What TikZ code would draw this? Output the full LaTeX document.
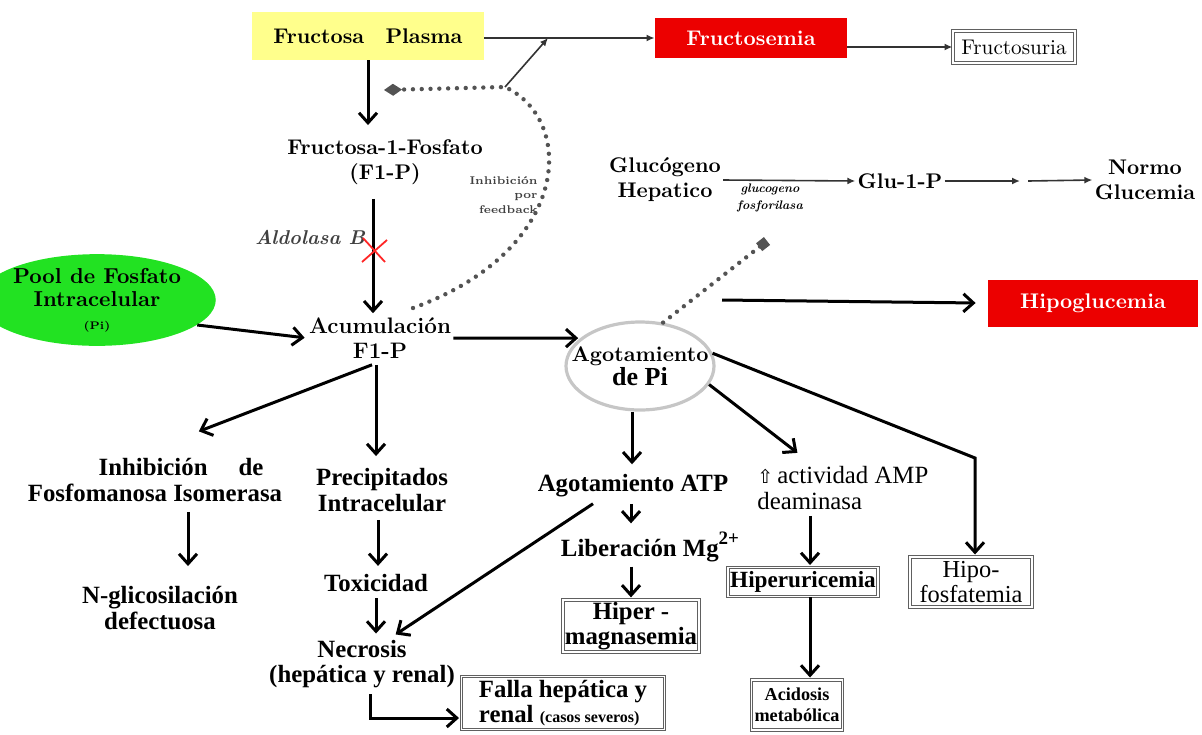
\documentclass[tikz,border=0pt]{standalone}
\usepackage{fontspec}
\newfontfamily\tnr{Liberation Serif}
\newfontfamily\symfont{DejaVu Sans}
\usetikzlibrary{arrows.meta,shapes.geometric,calc}

\definecolor{plasmayel}{RGB}{255,255,140}
\definecolor{alarmred}{RGB}{236,0,0}
\definecolor{poolgreen}{RGB}{34,226,34}

\tikzset{
  up/.style={font=\bfseries\fontsize{10.6}{12.5}\selectfont, align=center, inner sep=1pt},
  low/.style={font=\tnr\bfseries\fontsize{12.4}{12.8}\selectfont, align=center, inner sep=1pt},
  lowreg/.style={font=\tnr\fontsize{12.4}{12.8}\selectfont, align=center, inner sep=1pt},
  ybox/.style={up, fill=plasmayel, minimum width=116pt, minimum height=24pt},
  rbox/.style={up, fill=alarmred, text=white, minimum width=96pt, minimum height=20pt},
  gbox/.style={draw=gray!75!black, double=white, double distance=0.7pt, line width=0.5pt, inner sep=1.5pt},
  arr/.style={-{Straight Barb[length=5pt,width=9pt]}, line width=1.5pt, shorten >=1pt},
  thinarr/.style={-{Latex[length=4pt,width=3.5pt]}, line width=0.8pt, draw=black!80},
  dots/.style={draw=gray!65!black, line width=2.2pt, dash pattern=on 0pt off 4.4pt, line cap=round},
  xcross/.style={draw=red!85, line width=0.9pt},
}

\begin{document}
\begin{tikzpicture}[x=0.5pt, y=-0.5pt]
  \useasboundingbox (0,0) rectangle (1202,734);

  % top row
  \node[ybox] (fp) at (368,36) {Fructosa\quad Plasma};
  \node[rbox] (fsem) at (751,38) {Fructosemia};
  \node[gbox, font=\fontsize{10.6}{12}\selectfont, minimum width=61pt, minimum height=16pt] (fsur) at (1014,47) {Fructosuria};
  \node[up] (f1p) at (385,162) {Fructosa-1-Fosfato\\(F1-P)};
  \node[up, font=\bfseries\itshape\fontsize{10}{12}\selectfont, text=black!75] (aldo) at (310,237) {Aldolasa B};
  \node[up, font=\bfseries\fontsize{11.2}{12.5}\selectfont] (acum) at (380,338) {Acumulación\\F1-P};
  \node[ellipse, fill=poolgreen, minimum width=90pt, minimum height=45pt, inner sep=0pt, align=center,
        font=\bfseries\fontsize{10.8}{11.5}\selectfont] (pool) at (97,300)
        {\strut Pool de Fosfato\\Intracelular\\{\fontsize{5.5}{6}\selectfont (Pi)}};
  \node[ellipse, draw=gray!45, line width=1.6pt, minimum width=74pt, minimum height=44pt, inner xsep=-10pt, inner ysep=-2pt, align=center] (agpi) at (640,366)
        {{\bfseries\fontsize{10.6}{12}\selectfont Agotamiento}\\{\tnr\bfseries\fontsize{13}{12}\selectfont de Pi}};

  % glycogen row
  \node[up] (gluc) at (665,180) {Glucógeno\\Hepatico};
  \node[up] (g1p) at (900,181) {Glu-1-P};
  \node[up] (normo) at (1145,180) {Normo\\Glucemia};
  \node[up, font=\bfseries\itshape\fontsize{6.2}{8.5}\selectfont] (gfos) at (770,198) {glucogeno\\fosforilasa};
  \node[rbox, minimum width=105pt, minimum height=23.5pt] (hipog) at (1093,303) {Hipoglucemia};
  \node[up, font=\bfseries\fontsize{5.6}{7.2}\selectfont, text=black!75, align=right, anchor=east] (fblab) at (540,195) {Inhibición\\por\\feedback};

  % lower left
  \node[low] (inh) at (155,480) {\hspace*{26pt}Inhibición\quad\ de\\Fosfomanosa Isomerasa};
  \node[low] (nglic) at (160,608) {N-glicosilación\\defectuosa};
  \node[low] (prec) at (382,490) {Precipitados\\Intracelular};
  \node[low] (toxi) at (376,583) {Toxicidad};
  \node[low] (necro) at (362,664) {Necrosis\\(hepática y renal)};
  \node[gbox, low, align=left, minimum width=101.5pt, minimum height=26.5pt] (falla) at (563,703)
        {Falla hepática y\\renal {\fontsize{8}{9}\selectfont (casos severos)}};

  % lower right
  \node[low] (atp) at (633,486) {Agotamiento ATP};
  \node[low] (mg) at (650,547) {Liberación Mg\raisebox{1.1ex}{\fontsize{9.5}{9}\selectfont 2+}};
  \node[gbox, low, minimum width=65.5pt, minimum height=24pt] (hmag) at (631,626) {Hiper -\\magnasemia};
  \node[lowreg, align=left, anchor=west] (amp) at (755,488) {{\symfont\fontsize{9.5}{9}\selectfont ⇧}\,actividad AMP\\deaminasa};
  \node[gbox, low, font=\tnr\bfseries\fontsize{11.6}{12}\selectfont, minimum width=75pt, minimum height=14.5pt] (hur) at (803,582) {Hiperuricemia};
  \node[gbox, low, font=\tnr\bfseries\fontsize{9.1}{10.5}\selectfont, minimum width=45.5pt, minimum height=25pt] (acid) at (797,705) {Acidosis\\metabólica};
  \node[gbox, lowreg, font=\tnr\fontsize{12.2}{12.6}\selectfont, minimum width=61pt, minimum height=25pt] (hfos) at (971,582) {Hipo-\\fosfatemia};

  % helper points
  \coordinate (fbk) at (505,87);
  \coordinate (fbkon) at (548,38);
  \coordinate (fbkst) at (413,308);
  \coordinate (dmd) at (384,90);
  \coordinate (sq) at (767,241);
  \coordinate (gmid) at (1024,181);
  \coordinate (hst) at (722,300);
  \coordinate (hbend) at (975,458);

  % connectors top
  \draw[thinarr] (fp.east |- fsem.west) -- (fsem.west);
  \draw[thinarr] (fsem.east |- fsur.west) -- (fsur.west);
  \draw[thinarr] (fbk) -- (fbkon);
  \draw[dots, -{Diamond[length=9pt,width=6pt,fill=gray!65!black]}] (fbkst) .. controls (572,250) and (576,120) .. (fbk) -- (dmd);
  \draw[arr] (fp.south) -- ([yshift=5pt]fp.south |- f1p.north);
  \draw[arr] ([xshift=-3.5pt,yshift=-6pt]acum.north |- f1p.south) -- ([xshift=-3.5pt]acum.north);
  \draw[xcross] (363,238) -- (385,262) (362,262) -- (387,240);
  \draw[arr] (pool.-14) -- (acum.west);
  \draw[arr] (acum.east) -- (agpi.155);
  \draw[dots, -{Square[length=5pt,width=5pt,fill=gray!65!black]}] (agpi.62) -- (sq);

  % glycogen
  \draw[thinarr] (gluc.east) -- (g1p.west);
  \draw[thinarr] (g1p.east) -- ([xshift=-2pt]gmid);
  \draw[thinarr] ([xshift=2pt]gmid) -- (normo.west);
  \draw[arr] (hst) -- ([xshift=-5pt]hipog.west);

  % lower left
  \draw[arr] ([xshift=-4pt,yshift=-2pt]acum.south) -- ([xshift=21pt,yshift=12pt]inh.north);
  \draw[arr] ([xshift=-2pt,yshift=-2pt]acum.south) -- ([xshift=-2pt,yshift=4pt]acum.south |- prec.north);
  \draw[arr] ([xshift=16.5pt,yshift=-4pt]inh.south) -- ([xshift=16.5pt,yshift=8pt]inh.south |- nglic.north);
  \draw[arr] ([xshift=-2pt,yshift=-3pt]prec.south) -- ([xshift=-2pt,yshift=2pt]prec.south |- toxi.north);
  \draw[arr] ([yshift=-2pt]toxi.south) -- ([yshift=1pt]toxi.south |- necro.north);
  \draw[arr] ([xshift=4pt,yshift=-2pt]necro.south) |- ([yshift=-7.5pt]falla.west);
  \draw[arr] ([xshift=-20pt,yshift=-2pt]atp.south) -- ([xshift=16pt,yshift=1pt]necro.north);

  % lower right
  \draw[arr] ([xshift=-4pt]agpi.south) -- ([xshift=-4pt,yshift=3pt]agpi.south |- atp.north);
  \draw[arr] ([xshift=-1pt,yshift=-2pt]atp.south) -- ([xshift=-1pt,yshift=2pt]atp.south |- mg.north);
  \draw[arr] ([yshift=-1pt]hmag.north |- mg.south) -- (hmag.north);
  \draw[arr] (agpi.-15) -- ([xshift=22pt,yshift=5pt]amp.north west);
  \draw[arr] ([xshift=3.5pt,yshift=-2pt]hur.north |- amp.south) -- ([xshift=3.5pt]hur.north);
  \draw[arr] ([xshift=3.5pt]hur.south) -- ([xshift=3.5pt]hur.south |- acid.north);
  \draw[arr] (agpi.10) -- (hbend) -- (hbend |- hfos.north);
\end{tikzpicture}
\end{document}
